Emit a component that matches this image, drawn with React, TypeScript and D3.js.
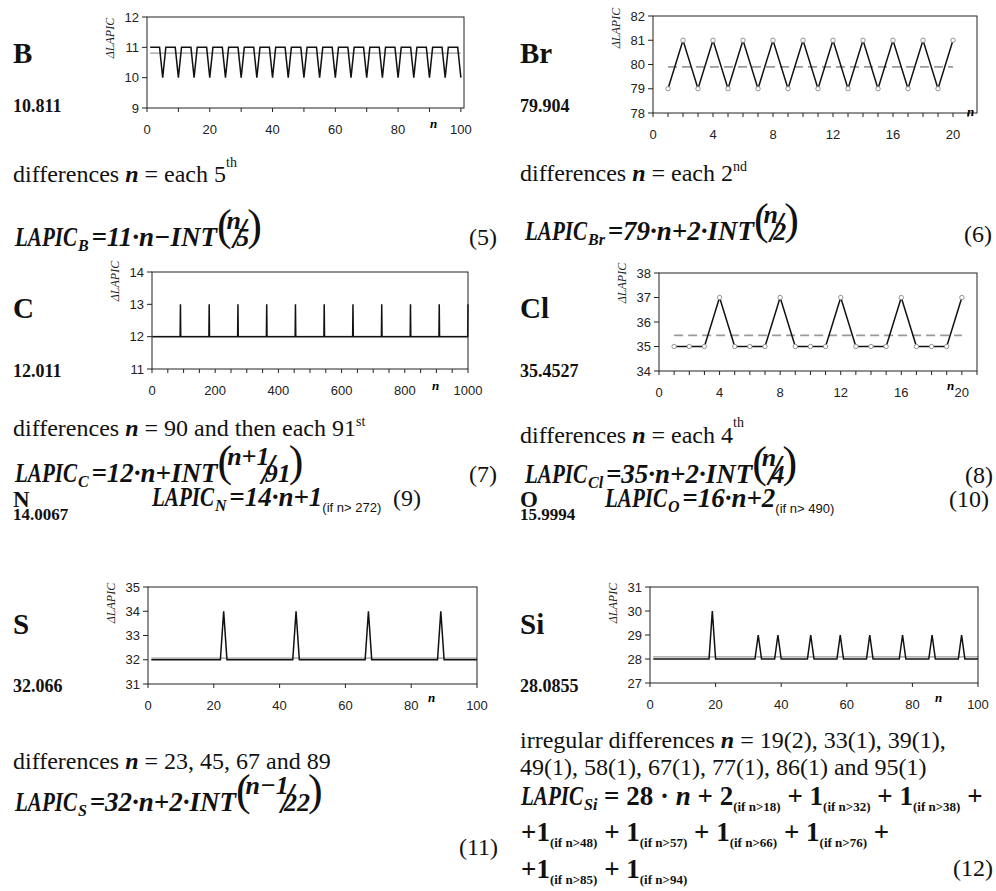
import React from "react";
import * as d3 from "d3";

const SERIF = "'Liberation Serif', 'Times New Roman', Times, serif";
const SANS = "'Liberation Sans', Arial, Helvetica, sans-serif";

// ---------------- data ----------------
const bDips = [5, 10, 15, 20, 25, 30, 35, 40, 45, 50, 55, 60, 65, 70, 75, 80, 85, 90, 95, 100];
const bBase = 11;
const bDipValue = 10;
const bCount = 100;
const bAverage = 10.811;

const brValues = [79, 81, 79, 81, 79, 81, 79, 81, 79, 81, 79, 81, 79, 81, 79, 81, 79, 81, 79, 81];
const brAverage = 79.904;

const cSpikes = [90, 181, 272, 363, 454, 545, 636, 727, 818, 909, 1000];
const cBase = 12;
const cSpikeValue = 13;
const cCount = 1000;
const cAverage = 12.011;

const clValues = [35, 35, 35, 37, 35, 35, 35, 37, 35, 35, 35, 37, 35, 35, 35, 37, 35, 35, 35, 37];
const clAverage = 35.4527;

const sSpikes = [23, 45, 67, 89];
const sBase = 32;
const sSpikeValue = 34;
const sCount = 100;
const sAverage = 32.066;

const siSpikes = [19, 33, 39, 49, 58, 67, 77, 86, 95];
const siSpikeValues = [30, 29, 29, 29, 29, 29, 29, 29, 29];
const siBase = 28;
const siCount = 100;
const siAverage = 28.0855;

type Pt = { n: number; v: number };

function fromSpikes(count: number, base: number, spikes: number[], values: number[]): Pt[] {
  const m = new Map<number, number>(spikes.map((s, i) => [s, values[i]] as [number, number]));
  return d3.range(1, count + 1).map((n) => ({ n, v: m.has(n) ? (m.get(n) as number) : base }));
}
function fromValues(vals: number[]): Pt[] {
  return vals.map((v, i) => ({ n: i + 1, v }));
}

const bData = fromSpikes(bCount, bBase, bDips, bDips.map(() => bDipValue));
const brData = fromValues(brValues);
const cData = fromSpikes(cCount, cBase, cSpikes, cSpikes.map(() => cSpikeValue));
const clData = fromValues(clValues);
const sData = fromSpikes(sCount, sBase, sSpikes, sSpikes.map(() => sSpikeValue));
const siData = fromSpikes(siCount, siBase, siSpikes, siSpikeValues);

// ---------------- chart ----------------
type ChartProps = {
  l: number; t: number; r: number; b: number;
  xDomain: [number, number]; yDomain: [number, number];
  xMinor: number[]; xMajor: number[]; yTicks: number[];
  data: Pt[]; avg: number; dashed?: boolean; markers?: boolean;
  nPos: [number, number]; labelCy: number;
};

function Chart(p: ChartProps) {
  const x = d3.scaleLinear().domain(p.xDomain).range([p.l, p.r]);
  const y = d3.scaleLinear().domain(p.yDomain).range([p.b, p.t]);
  const line = d3.line<Pt>().x((d) => x(d.n)).y((d) => y(d.v));
  const n0 = p.data[0].n;
  const n1 = p.data[p.data.length - 1].n;
  return (
    <g>
      <line x1={x(n0)} x2={x(n1)} y1={y(p.avg)} y2={y(p.avg)} stroke="#9a9a9a"
        strokeWidth={p.dashed ? 1.6 : 1.2} strokeDasharray={p.dashed ? "9,5" : undefined} />
      <path d={line(p.data) || ""} fill="none" stroke="#111" strokeWidth={1.5} />
      {p.markers && p.data.map((d, i) => (
        <circle key={i} cx={x(d.n)} cy={y(d.v)} r={2.2} fill="#fff" stroke="#888" strokeWidth={0.9} />
      ))}
      <rect x={p.l} y={p.t} width={p.r - p.l} height={p.b - p.t} fill="none" stroke="#222" strokeWidth={1} />
      {p.yTicks.map((v) => (
        <g key={"y" + v}>
          <line x1={p.l - 5} x2={p.l} y1={y(v)} y2={y(v)} stroke="#222" />
          <text x={p.l - 8} y={y(v)} dy="0.36em" textAnchor="end" fontFamily={SANS} fontSize={13} fill="#222">{v}</text>
        </g>
      ))}
      {p.xMinor.map((v) => (
        <line key={"xm" + v} x1={x(v)} x2={x(v)} y1={p.b} y2={p.b + 4} stroke="#222" />
      ))}
      {p.xMajor.map((v) => (
        <text key={"xl" + v} x={x(v)} y={p.b + 26} textAnchor="middle" fontFamily={SANS} fontSize={13} fill="#222">{v}</text>
      ))}
      <text x={p.nPos[0]} y={p.nPos[1]} fontFamily={SERIF} fontStyle="italic" fontWeight="bold" fontSize={13}>n</text>
      <text transform={`translate(${p.l - 33},${p.labelCy}) rotate(-90)`} textAnchor="middle"
        fontFamily={SERIF} fontStyle="italic" fontSize={12} fill="#222">ΔLAPIC</text>
    </g>
  );
}

// ---------------- rich text ----------------
type Seg = { t: string; fs: number; off?: number; b?: boolean; i?: boolean; f?: string; dx?: number };

function Rich({ x, y, segs, anchor }: { x: number; y: number; segs: Seg[]; anchor?: string }) {
  let prev = 0;
  return (
    <text x={x} y={y} textAnchor={anchor || "start"} xmlSpace="preserve" style={{ whiteSpace: "pre" }} fill="#111">
      {segs.map((s, k) => {
        const off = s.off || 0;
        const dy = off - prev;
        prev = off;
        return (
          <tspan key={k} dy={dy} dx={s.dx || 0} fontSize={s.fs}
            fontWeight={s.b ? "bold" : "normal"} fontStyle={s.i ? "italic" : "normal"}
            fontFamily={s.f || SERIF}>{s.t}</tspan>
        );
      })}
    </text>
  );
}

const EQ = 27;
const LAPIC_W = 62;
const bi = (t: string, fs = EQ, off = 0, dx = 0): Seg => ({ t, fs, off, b: true, i: true, dx });
const bo = (t: string, fs = EQ, off = 0, dx = 0): Seg => ({ t, fs, off, b: true, dx });
const rg = (t: string, fs = 24, off = 0, dx = 0): Seg => ({ t, fs, off, dx });

// "LAPIC" is set in a narrow bold italic, then the subscript and the rest follow
function Lapic({ x, y, sub, segs }: { x: number; y: number; sub: string; segs: Seg[] }) {
  return (
    <g>
      <text transform={`translate(${x},${y}) scale(0.78,1)`} fontFamily={SERIF} fontWeight="bold"
        fontStyle="italic" fontSize={EQ} fill="#111">LAPIC</text>
      <Rich x={x + LAPIC_W} y={y} segs={[bi(sub, 16, 5, 1), ...segs]} />
    </g>
  );
}

function frac(num: string, den: string): Seg[] {
  return [
    { t: "(", fs: 44, off: -6, dx: 0 },
    bi(num, 26, -17, -5),
    { t: "/", fs: 44, off: 2, dx: -8, i: true },
    bi(den, 26, 0, -9),
    { t: ")", fs: 44, off: -6, dx: -2 },
  ];
}

function diffLine(rest: string, sup?: string, supOff = -13): Seg[] {
  const s: Seg[] = [rg("differences "), { t: "n", fs: 24, b: true, i: true }, rg(rest)];
  if (sup) s.push(rg(sup, 14, supOff));
  return s;
}

function ifSub(t: string): Seg {
  return { t, fs: 13, off: 6, b: true };
}

export default function App() {
  return (
    <svg width={996} height={891} viewBox="0 0 996 891"
      style={{ position: "absolute", left: 0, top: 0, display: "block", background: "#fff" }}>
      <rect x={0} y={0} width={996} height={891} fill="#fff" />

      {/* ---- element labels ---- */}
      <Rich x={13} y={63} segs={[bo("B", 29)]} />
      <Rich x={13} y={112} segs={[bo("10.811", 18)]} />
      <Rich x={520} y={63} segs={[bo("Br", 29)]} />
      <Rich x={520} y={112} segs={[bo("79.904", 18)]} />
      <Rich x={13} y={318} segs={[bo("C", 29)]} />
      <Rich x={13} y={377} segs={[bo("12.011", 18)]} />
      <Rich x={520} y={318} segs={[bo("Cl", 29)]} />
      <Rich x={520} y={377} segs={[bo("35.4527", 18)]} />
      <Rich x={13} y={507} segs={[bo("N", 23)]} />
      <Rich x={13} y={520} segs={[bo("14.0067", 17)]} />
      <Rich x={520} y={507} segs={[bo("O", 23)]} />
      <Rich x={520} y={520} segs={[bo("15.9994", 17)]} />
      <Rich x={13} y={634} segs={[bo("S", 29)]} />
      <Rich x={13} y={692} segs={[bo("32.066", 18)]} />
      <Rich x={520} y={634} segs={[bo("Si", 29)]} />
      <Rich x={520} y={692} segs={[bo("28.0855", 18)]} />

      {/* ---- charts ---- */}
      <Chart l={147} t={17} r={464} b={108} xDomain={[0, 101]} yDomain={[9, 12]}
        xMinor={d3.range(0, 101, 10)} xMajor={d3.range(0, 101, 20)} yTicks={[9, 10, 11, 12]}
        data={bData} avg={bAverage} nPos={[430, 128]} labelCy={38} />
      <Chart l={653} t={16} r={977} b={113} xDomain={[0, 21.6]} yDomain={[78, 82]}
        xMinor={d3.range(0, 22, 1)} xMajor={d3.range(0, 21, 4)} yTicks={[78, 79, 80, 81, 82]}
        data={brData} avg={brAverage} dashed markers nPos={[967, 116]} labelCy={28} />
      <Chart l={152} t={272} r={468} b={369} xDomain={[0, 1000]} yDomain={[11, 14]}
        xMinor={d3.range(0, 1001, 50)} xMajor={d3.range(0, 1001, 200)} yTicks={[11, 12, 13, 14]}
        data={cData} avg={cAverage} nPos={[432, 390]} labelCy={281} />
      <Chart l={659} t={273} r={977} b={371} xDomain={[0, 21]} yDomain={[34, 38]}
        xMinor={d3.range(0, 22, 1)} xMajor={d3.range(0, 21, 4)} yTicks={[34, 35, 36, 37, 38]}
        data={clData} avg={clAverage} dashed markers nPos={[947, 390]} labelCy={283} />
      <Chart l={148} t={587} r={477} b={684} xDomain={[0, 100]} yDomain={[31, 35]}
        xMinor={d3.range(0, 101, 20)} xMajor={d3.range(0, 101, 20)} yTicks={[31, 32, 33, 34, 35]}
        data={sData} avg={sAverage} nPos={[428, 702]} labelCy={603} />
      <Chart l={650} t={587} r={978} b={683} xDomain={[0, 100]} yDomain={[27, 31]}
        xMinor={d3.range(0, 101, 20)} xMajor={d3.range(0, 101, 20)} yTicks={[27, 28, 29, 30, 31]}
        data={siData} avg={siAverage} nPos={[935, 702]} labelCy={603} />

      {/* ---- descriptions ---- */}
      <Rich x={13} y={182} segs={diffLine(" = each 5", "th", -15)} />
      <Rich x={520} y={181} segs={diffLine(" = each 2", "nd", -10)} />
      <Rich x={13} y={436} segs={diffLine(" = 90 and then each 91", "st", -10)} />
      <Rich x={520} y={443} segs={diffLine(" = each 4", "th", -16)} />
      <Rich x={13} y={769} segs={diffLine(" = 23, 45, 67 and 89")} />
      <Rich x={520} y={748} segs={[rg("irregular differences "), { t: "n", fs: 24, b: true, i: true }, rg(" = 19(2), 33(1), 39(1),")]} />
      <Rich x={520} y={775} segs={[rg("49(1), 58(1), 67(1), 77(1), 86(1) and 95(1)")]} />

      {/* ---- equations ---- */}
      <Lapic x={15} y={246} sub="B" segs={[bi(" =11·n\u2212INT", EQ, 0, -4), ...frac("n", "5")]} />
      <Rich x={497} y={245} anchor="end" segs={[rg("(5)")]} />
      <Lapic x={525} y={240} sub="Br" segs={[bi(" =79·n+2·INT", EQ, 0, -4), ...frac("n", "2")]} />
      <Rich x={992} y={242} anchor="end" segs={[rg("(6)")]} />
      <Lapic x={15} y={482} sub="C" segs={[bi(" =12·n+INT", EQ, 0, -4), ...frac("n+1", "91")]} />
      <Rich x={497} y={482} anchor="end" segs={[rg("(7)")]} />
      <Lapic x={525} y={483} sub="Cl" segs={[bi(" =35·n+2·INT", EQ, 0, -4), ...frac("n", "4")]} />
      <Rich x={993} y={483} anchor="end" segs={[rg("(8)")]} />
      <Lapic x={152} y={506} sub="N" segs={[bi(" =14·n+1", EQ, 0, -4), { t: "(if n> 272)", fs: 13, off: 6, f: SANS }]} />
      <Rich x={421} y={506} anchor="end" segs={[rg("(9)")]} />
      <Lapic x={605} y={507} sub="O" segs={[bi(" =16·n+2", EQ, 0, -4), { t: "(if n> 490)", fs: 13, off: 6, f: SANS }]} />
      <Rich x={989} y={507} anchor="end" segs={[rg("(10)")]} />
      <Lapic x={15} y={811} sub="S" segs={[bi(" =32·n+2·INT", EQ, 0, -4), ...frac("n\u22121", "22")]} />
      <Rich x={498} y={855} anchor="end" segs={[rg("(11)")]} />

      <Lapic x={521} y={805} sub="Si" segs={[bo(" = 28 · ", EQ, 0, 0), bi("n"), bo(" + 2"), ifSub("(if n>18)"), bo(" + 1"), ifSub("(if n>32)"), bo(" + 1"), ifSub("(if n>38)"), bo(" +")]} />
      <Rich x={521} y={841} segs={[bo("+1"), ifSub("(if n>48)"), bo(" + 1"), ifSub("(if n>57)"), bo(" + 1"), ifSub("(if n>66)"), bo(" + 1"), ifSub("(if n>76)"), bo(" +")]} />
      <Rich x={521} y={878} segs={[bo("+1"), ifSub("(if n>85)"), bo(" + 1"), ifSub("(if n>94)")]} />
      <Rich x={993} y={876} anchor="end" segs={[rg("(12)")]} />
    </svg>
  );
}
